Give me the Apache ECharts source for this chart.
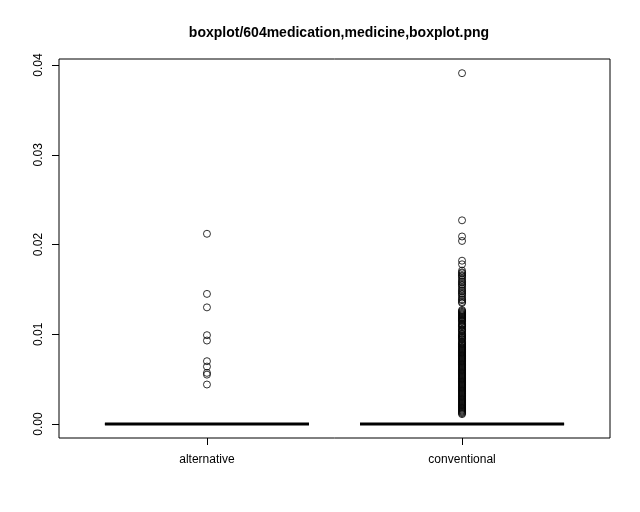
<!DOCTYPE html>
<html>
<head>
<meta charset="utf-8">
<script src="https://cdn.jsdelivr.net/npm/echarts@6/dist/echarts.min.js"></script>
<style>
  html, body { margin: 0; padding: 0; background: #fff; }
  #main { width: 640px; height: 512px; }
</style>
</head>
<body>
<div id="main"></div>
<script>
// groups and their positions on the x scale (R puts them at 1, 2)
var categories = ['alternative', 'conventional'];
var positions = [1, 2];
var yTicks = [0, 0.01, 0.02, 0.03, 0.04];

// box stats per group: [lower whisker, Q1, median, Q3, upper whisker]
var boxStats = [
  [0, 0, 0, 0, 0],
  [0, 0, 0, 0, 0]
];

// outliers
var outAlternative = [0.0212, 0.0145, 0.0130, 0.0099, 0.0093, 0.0070, 0.0064, 0.0057, 0.0055, 0.0044];
var outConventional = [
  0.0391, 0.0227, 0.0209, 0.0204, 0.0182, 0.0178, 0.0171, 0.0169, 0.0168, 0.0166,
  0.0165, 0.0163, 0.0161, 0.0159, 0.0158, 0.0156, 0.0155, 0.0153, 0.0151, 0.0149,
  0.0148, 0.0146, 0.0145, 0.0143, 0.0141, 0.0139, 0.0138, 0.0136, 0.0135,
  0.0127, 0.0126, 0.0125, 0.0124, 0.0123, 0.0122, 0.0121, 0.0120, 0.0119, 0.0118,
  0.0117, 0.0116, 0.0115, 0.0114, 0.0112, 0.0111, 0.0110, 0.0109, 0.0108, 0.0106,
  0.0105, 0.0104, 0.0103, 0.0101, 0.0100, 0.0099, 0.0098, 0.0097, 0.0096, 0.0095,
  0.0094, 0.0092, 0.0091, 0.0090, 0.0089, 0.0088, 0.0087, 0.0086, 0.0085, 0.0084,
  0.0083, 0.0082, 0.0081, 0.0080, 0.0079, 0.0078, 0.0077, 0.0076, 0.0075, 0.0074,
  0.0073, 0.0072, 0.0071, 0.0070, 0.0069, 0.0068, 0.0067, 0.0066, 0.0065, 0.0064,
  0.0063, 0.0062, 0.0061, 0.0060, 0.0059, 0.0058, 0.0057, 0.0056, 0.0055, 0.0054,
  0.0053, 0.0052, 0.0051, 0.0050, 0.0049, 0.0048, 0.0047, 0.0046, 0.0045, 0.0044,
  0.0043, 0.0042, 0.0041, 0.0040, 0.0039, 0.0038, 0.0037, 0.0036, 0.0035, 0.0034,
  0.0033, 0.0032, 0.0031, 0.0030, 0.0029, 0.0028, 0.0027, 0.0026, 0.0025, 0.0024,
  0.0023, 0.0022, 0.0021, 0.0020, 0.0019, 0.0018, 0.0017, 0.0016, 0.0015, 0.0014,
  0.0013, 0.0012, 0.0011
];

var chart = echarts.init(document.getElementById('main'), null, { renderer: 'canvas' });

var boxData = boxStats.map(function (s, i) {
  return [positions[i]].concat(s);
});
var outData = [];
outAlternative.forEach(function (v) { outData.push([positions[0], v]); });
outConventional.forEach(function (v) { outData.push([positions[1], v]); });

function renderBox(params, api) {
  var x = api.value(0);
  var lo = api.coord([x, api.value(1)]);
  var q1 = api.coord([x, api.value(2)]);
  var med = api.coord([x, api.value(3)]);
  var q3 = api.coord([x, api.value(4)]);
  var hi = api.coord([x, api.value(5)]);
  var half = api.size([0.8, 0])[0] / 2;
  var cx = med[0];
  var black = { stroke: '#000', lineWidth: 1, fill: null };
  return {
    type: 'group',
    children: [
      { type: 'line', shape: { x1: cx, y1: q3[1], x2: cx, y2: hi[1] }, style: { stroke: '#000', lineWidth: 1, lineDash: [4, 3] } },
      { type: 'line', shape: { x1: cx, y1: q1[1], x2: cx, y2: lo[1] }, style: { stroke: '#000', lineWidth: 1, lineDash: [4, 3] } },
      { type: 'line', shape: { x1: cx - half / 2, y1: hi[1], x2: cx + half / 2, y2: hi[1] }, style: black },
      { type: 'line', shape: { x1: cx - half / 2, y1: lo[1], x2: cx + half / 2, y2: lo[1] }, style: black },
      { type: 'rect', shape: { x: cx - half, y: q3[1], width: half * 2, height: q1[1] - q3[1] }, style: black },
      { type: 'line', shape: { x1: cx - half, y1: med[1], x2: cx + half, y2: med[1] }, style: { stroke: '#000', lineWidth: 3 } }
    ]
  };
}

chart.setOption({
  animation: false,
  backgroundColor: '#fff',
  title: {
    text: 'boxplot/604medication,medicine,boxplot.png',
    left: 334,
    top: 21,
    textAlign: 'center',
    textStyle: { fontFamily: 'Liberation Sans', fontSize: 14, fontWeight: 'bold', color: '#000' }
  },
  grid: {
    left: 59,
    right: 30,
    top: 59,
    bottom: 74,
    show: true,
    borderColor: '#000',
    borderWidth: 1,
    backgroundColor: 'transparent'
  },
  xAxis: {
    type: 'value',
    min: 0.42,
    max: 2.58,
    splitLine: { show: false },
    axisLine: { show: false, onZero: false },
    axisTick: {
      show: true,
      length: 7,
      customValues: positions,
      lineStyle: { color: '#000' }
    },
    axisLabel: {
      customValues: positions,
      margin: 16,
      color: '#000',
      fontFamily: 'Liberation Sans',
      fontSize: 12,
      formatter: function (v) {
        var i = positions.indexOf(v);
        return i >= 0 ? categories[i] : '';
      }
    }
  },
  yAxis: {
    type: 'value',
    min: -0.00156,
    max: 0.04068,
    splitLine: { show: false },
    axisLine: { show: false, onZero: false },
    axisTick: {
      show: true,
      length: 7,
      customValues: yTicks,
      lineStyle: { color: '#000' }
    },
    axisLabel: {
      customValues: yTicks,
      rotate: 90,
      margin: 14,
      color: '#000',
      fontFamily: 'Liberation Sans',
      fontSize: 12,
      formatter: function (v) { return v.toFixed(2); }
    }
  },
  series: [
    {
      type: 'custom',
      renderItem: renderBox,
      data: boxData,
      encode: { x: 0, y: [1, 2, 3, 4, 5] },
      silent: true
    },
    {
      type: 'scatter',
      data: outData,
      symbol: 'circle',
      symbolSize: 7,
      silent: true,
      itemStyle: { color: 'transparent', borderColor: '#000', borderWidth: 1 }
    }
  ]
});
</script>
</body>
</html>
